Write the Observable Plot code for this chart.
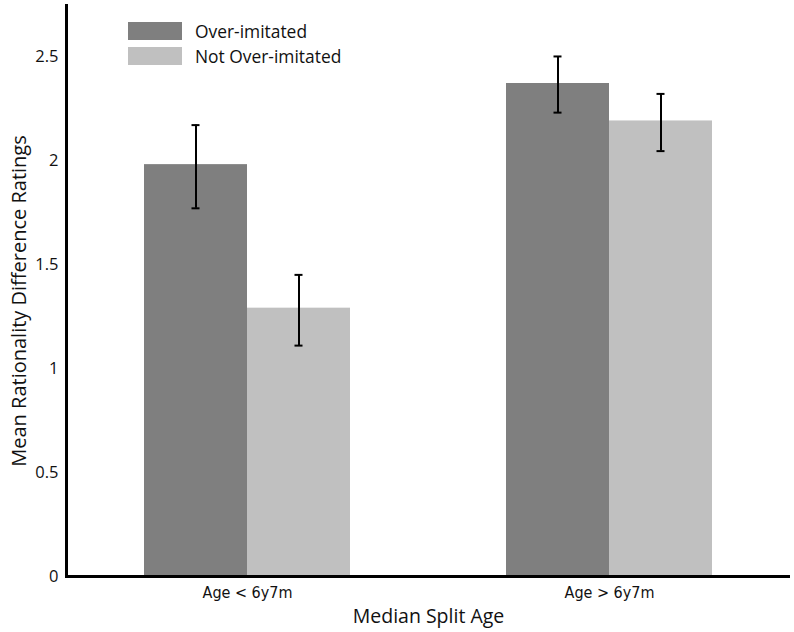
<!DOCTYPE html>
<html><head><meta charset="utf-8">
<script src="https://cdn.jsdelivr.net/npm/d3@7"></script>
<script src="https://cdn.jsdelivr.net/npm/@observablehq/plot@0.6"></script>
<style>
body{margin:0;background:#fff;}
#wrap{position:relative;width:794px;height:632px;}
#legend{position:absolute;left:128px;top:18px;font-family:"Open Sans","Noto Sans",sans-serif;font-size:17.4px;color:#111;}
#legend .row{display:flex;align-items:center;height:25px;}
#legend .sw{width:54px;height:18px;margin-right:13px;}
svg [aria-label="fx-axis tick label"] text{font-size:16px;font-family:"Liberation Sans Narrow","DejaVu Sans Condensed",sans-serif;}
svg [aria-label="fx-axis label"] text{font-size:19.5px;}
</style></head>
<body><div id="wrap"><div id="legend"></div></div>
<script>
const groups = ["Age < 6y7m", "Age > 6y7m"];
const series = ["Over-imitated", "Not Over-imitated"];
const colors = ["#7f7f7f", "#c0c0c0"];
const overMeans = [1.98, 2.37];
const overLow = [1.77, 2.23];
const overHigh = [2.17, 2.50];
const notMeans = [1.29, 2.19];
const notLow = [1.11, 2.045];
const notHigh = [1.45, 2.32];
const yTicks = [0, 0.5, 1, 1.5, 2, 2.5];
const yTickLabels = ["0", "0.5", "1", "1.5", "2", "2.5"];
const yLabel = "Mean Rationality Difference Ratings";
const xLabel = "Median Split Age";

const rows = [];
groups.forEach((g, i) => {
  rows.push({group: g, series: series[0], mean: overMeans[i], lo: overLow[i], hi: overHigh[i]});
  rows.push({group: g, series: series[1], mean: notMeans[i], lo: notLow[i], hi: notHigh[i]});
});

const plot = Plot.plot({
  width: 794, height: 632,
  marginLeft: 65, marginRight: 4, marginTop: 5, marginBottom: 56,
  style: {fontFamily: "'Open Sans','Noto Sans',sans-serif", background: "white", color: "#111"},
  fx: {domain: groups, padding: 0},
  x: {domain: series, paddingInner: 0, paddingOuter: 0.757, axis: null},
  y: {domain: [0, 2.745]},
  color: {domain: series, range: colors},
  marks: [
    Plot.axisY({ticks: yTicks, tickFormat: (d) => yTickLabels[yTicks.indexOf(d)], tickSize: 0, tickPadding: 8, fontSize: 16.5, label: null}),
    Plot.text([yLabel], {text: (d) => d, frameAnchor: "left", textAnchor: "middle", rotate: -90, dx: -47, dy: 10, fontSize: 20, fill: "#111", facet: "super"}),
    Plot.axisFx({anchor: "bottom", tickSize: 0, tickPadding: 10, label: xLabel, labelAnchor: "center", labelArrow: "none", labelOffset: 46}),
    Plot.barY(rows, {fx: "group", x: "series", y: "mean", fill: "series"}),
    Plot.ruleX(rows, {fx: "group", x: "series", y1: "lo", y2: "hi", stroke: "#000", strokeWidth: 2}),
    Plot.tickY(rows, {fx: "group", x: "series", y: "lo", stroke: "#000", strokeWidth: 2, insetLeft: 47.5, insetRight: 47.5}),
    Plot.tickY(rows, {fx: "group", x: "series", y: "hi", stroke: "#000", strokeWidth: 2, insetLeft: 47.5, insetRight: 47.5}),
    Plot.ruleY([0], {stroke: "#000", strokeWidth: 3}),
    Plot.frame({anchor: "left", stroke: "#000", strokeWidth: 3, facet: "super"})
  ]
});
document.getElementById("wrap").appendChild(plot);

const legend = document.getElementById("legend");
series.forEach((s, i) => {
  const row = document.createElement("div");
  row.className = "row";
  const sw = document.createElement("div");
  sw.className = "sw";
  sw.style.background = colors[i];
  const t = document.createElement("span");
  t.textContent = s;
  row.appendChild(sw); row.appendChild(t);
  legend.appendChild(row);
});
</script>
</body></html>
